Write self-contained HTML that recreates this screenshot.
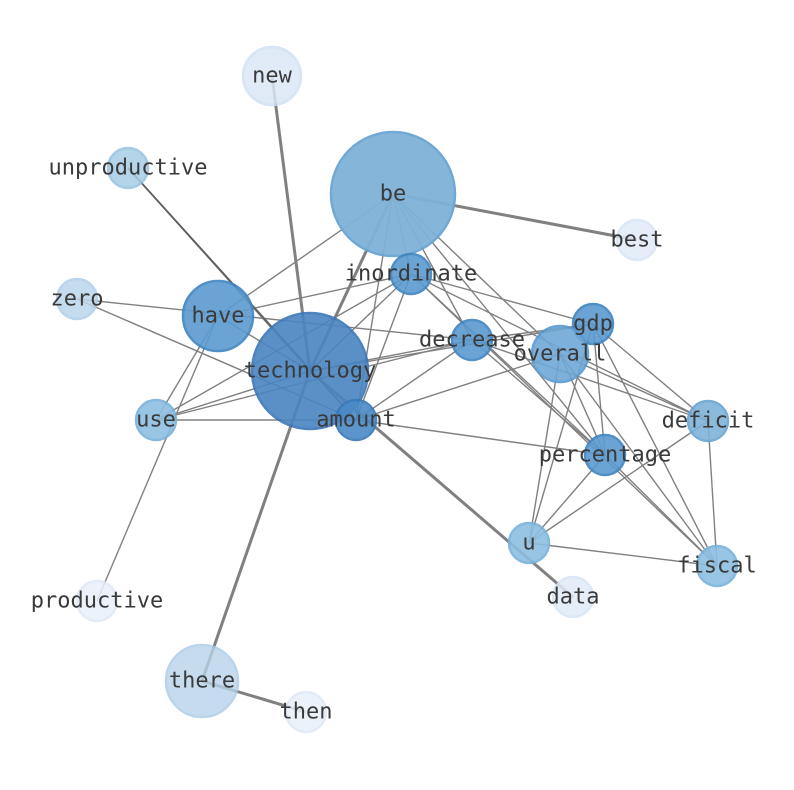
<!DOCTYPE html>
<html><head><meta charset="utf-8"><style>html,body{margin:0;padding:0;background:#fff}svg{display:block}</style></head>
<body>
<svg width="794" height="790" viewBox="0 0 794 790" xmlns="http://www.w3.org/2000/svg">
<g stroke="#808080" stroke-width="1.4" fill="none">
<line x1="128" y1="168" x2="310" y2="371"/>
<line x1="393" y1="194" x2="218" y2="316"/>
<line x1="393" y1="194" x2="411" y2="274"/>
<line x1="393" y1="194" x2="356" y2="420"/>
<line x1="393" y1="194" x2="472" y2="340"/>
<line x1="393" y1="194" x2="605" y2="455"/>
<line x1="393" y1="194" x2="560" y2="354"/>
<line x1="411" y1="274" x2="218" y2="316"/>
<line x1="411" y1="274" x2="310" y2="371"/>
<line x1="411" y1="274" x2="356" y2="420"/>
<line x1="411" y1="274" x2="593" y2="324"/>
<line x1="411" y1="274" x2="708" y2="421"/>
<line x1="411" y1="274" x2="605" y2="455"/>
<line x1="411" y1="274" x2="717" y2="566"/>
<line x1="411" y1="274" x2="156" y2="420"/>
<line x1="77" y1="299" x2="472" y2="340"/>
<line x1="77" y1="299" x2="356" y2="420"/>
<line x1="218" y1="316" x2="156" y2="420"/>
<line x1="218" y1="316" x2="97" y2="601"/>
<line x1="218" y1="316" x2="310" y2="371"/>
<line x1="156" y1="420" x2="310" y2="371"/>
<line x1="156" y1="420" x2="472" y2="340"/>
<line x1="156" y1="420" x2="356" y2="420"/>
<line x1="356" y1="420" x2="605" y2="455"/>
<line x1="356" y1="420" x2="472" y2="340"/>
<line x1="356" y1="420" x2="560" y2="354"/>
<line x1="472" y1="340" x2="593" y2="324"/>
<line x1="472" y1="340" x2="708" y2="421"/>
<line x1="472" y1="340" x2="605" y2="455"/>
<line x1="472" y1="340" x2="310" y2="371"/>
<line x1="593" y1="324" x2="529" y2="543"/>
<line x1="593" y1="324" x2="708" y2="421"/>
<line x1="593" y1="324" x2="717" y2="566"/>
<line x1="593" y1="324" x2="605" y2="455"/>
<line x1="593" y1="324" x2="310" y2="371"/>
<line x1="560" y1="354" x2="529" y2="543"/>
<line x1="560" y1="354" x2="717" y2="566"/>
<line x1="560" y1="354" x2="605" y2="455"/>
<line x1="560" y1="354" x2="708" y2="421"/>
<line x1="605" y1="455" x2="529" y2="543"/>
<line x1="708" y1="421" x2="529" y2="543"/>
<line x1="708" y1="421" x2="717" y2="566"/>
<line x1="529" y1="543" x2="717" y2="566"/>
<line x1="605" y1="455" x2="717" y2="566"/>
</g>
<g stroke="#808080" stroke-width="3" fill="none">
<line x1="272" y1="76" x2="310" y2="371"/>
<line x1="393" y1="194" x2="637" y2="240"/>
<line x1="393" y1="194" x2="310" y2="371"/>
<line x1="310" y1="371" x2="202" y2="681"/>
<line x1="202" y1="681" x2="306" y2="712"/>
<line x1="310" y1="371" x2="573" y2="597"/>
</g>
<line x1="128" y1="168" x2="356" y2="420" stroke="#606060" stroke-width="1.8"/>
<g stroke-width="2.5">
<circle cx="272" cy="76" r="29" fill="#dce8f6" stroke="#cfe0f3" opacity="0.85"/>
<circle cx="128" cy="168" r="20" fill="#a8cde6" stroke="#94c0e0" opacity="0.85"/>
<circle cx="393" cy="194" r="62" fill="#7fb3d9" stroke="#6aa5d2" opacity="0.95"/>
<circle cx="637" cy="240" r="20" fill="#e1ebf7" stroke="#d6e4f4" opacity="0.85"/>
<circle cx="411" cy="274" r="20" fill="#5b9bd0" stroke="#3f84c2" opacity="0.9"/>
<circle cx="77" cy="299" r="20" fill="#bcd6ec" stroke="#aecde8" opacity="0.85"/>
<circle cx="218" cy="316" r="35" fill="#5b9bd0" stroke="#3f84c2" opacity="0.9"/>
<circle cx="593" cy="324" r="20" fill="#5b9bd0" stroke="#3f84c2" opacity="0.9"/>
<circle cx="472" cy="340" r="20" fill="#5b9bd0" stroke="#3f84c2" opacity="0.9"/>
<circle cx="560" cy="354" r="28" fill="#6fa8d6" stroke="#5a9ad0" opacity="0.9"/>
<circle cx="310" cy="371" r="58" fill="#4a85c2" stroke="#3a76b8" opacity="0.9"/>
<circle cx="156" cy="420" r="20" fill="#8dbfe0" stroke="#78b2da" opacity="0.9"/>
<circle cx="356" cy="420" r="20" fill="#4a8ac6" stroke="#3a7ab9" opacity="0.9"/>
<circle cx="708" cy="421" r="20" fill="#7fb3d9" stroke="#6aa5d2" opacity="0.9"/>
<circle cx="605" cy="455" r="20" fill="#5b9bd0" stroke="#3f84c2" opacity="0.9"/>
<circle cx="529" cy="543" r="20" fill="#8dbfe0" stroke="#78b2da" opacity="0.9"/>
<circle cx="717" cy="566" r="20" fill="#8dbfe0" stroke="#78b2da" opacity="0.9"/>
<circle cx="573" cy="597" r="20" fill="#e1ebf7" stroke="#d6e4f4" opacity="0.85"/>
<circle cx="97" cy="601" r="20" fill="#e8f0f9" stroke="#dde8f5" opacity="0.85"/>
<circle cx="202" cy="681" r="36" fill="#b8d4ea" stroke="#aacbe6" opacity="0.8"/>
<circle cx="306" cy="712" r="20" fill="#e8f0f9" stroke="#dde8f5" opacity="0.85"/>
</g>
<g font-family="'DejaVu Sans Mono','Liberation Mono',monospace" font-size="22" fill="#3a3a3a" text-anchor="middle" dominant-baseline="central">
<text x="272" y="76">new</text>
<text x="128" y="168">unproductive</text>
<text x="393" y="194">be</text>
<text x="637" y="240">best</text>
<text x="411" y="274">inordinate</text>
<text x="77" y="299">zero</text>
<text x="218" y="316">have</text>
<text x="593" y="324">gdp</text>
<text x="472" y="340">decrease</text>
<text x="560" y="354">overall</text>
<text x="310" y="371">technology</text>
<text x="156" y="420">use</text>
<text x="356" y="420">amount</text>
<text x="708" y="421">deficit</text>
<text x="605" y="455">percentage</text>
<text x="529" y="543">u</text>
<text x="717" y="566">fiscal</text>
<text x="573" y="597">data</text>
<text x="97" y="601">productive</text>
<text x="202" y="681">there</text>
<text x="306" y="712">then</text>
</g>
</svg>
</body></html>
